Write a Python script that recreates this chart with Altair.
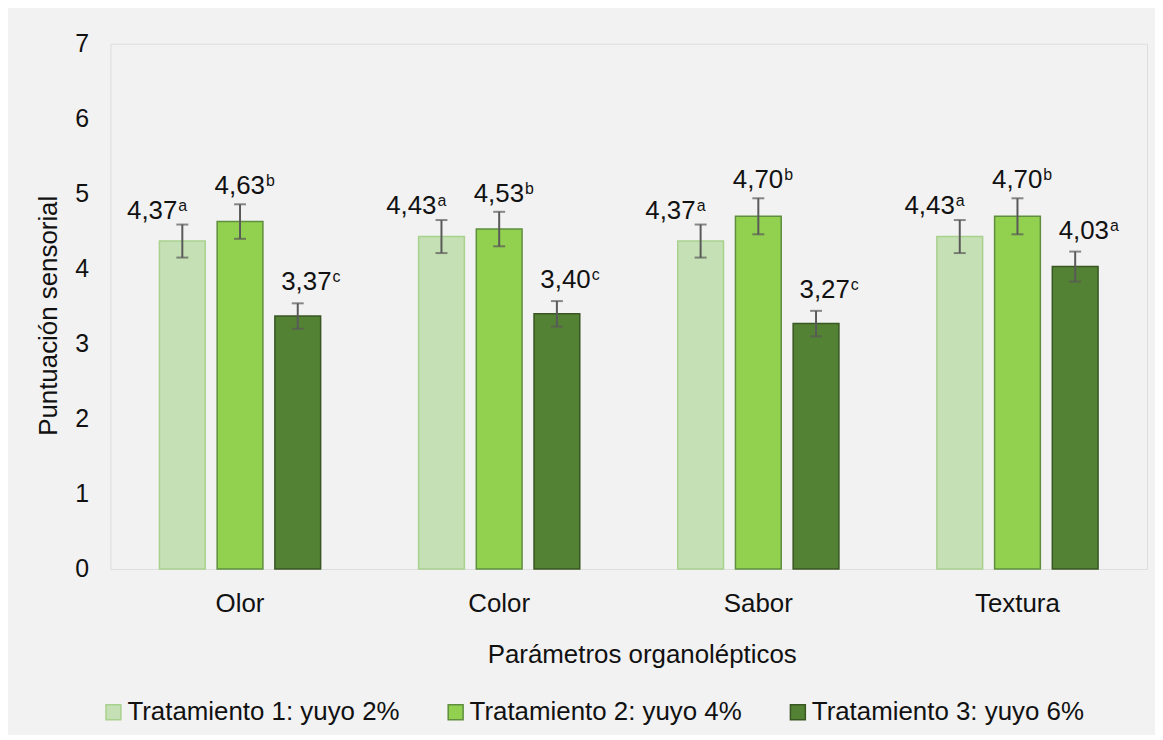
import altair as alt
import pandas as pd

params = ["Olor", "Color", "Sabor", "Textura"]
treatments = ["Tratamiento 1: yuyo 2%", "Tratamiento 2: yuyo 4%", "Tratamiento 3: yuyo 6%"]
t1_vals = [4.37, 4.43, 4.37, 4.43]
t2_vals = [4.63, 4.53, 4.70, 4.70]
t3_vals = [3.37, 3.40, 3.27, 4.03]
t1_err = [0.22, 0.22, 0.22, 0.22]
t2_err = [0.23, 0.23, 0.24, 0.24]
t3_err = [0.17, 0.17, 0.17, 0.20]
t1_sig = ["a", "a", "a", "a"]
t2_sig = ["b", "b", "b", "b"]
t3_sig = ["c", "c", "c", "a"]
y_ticks = [0, 1, 2, 3, 4, 5, 6, 7]

fills = ["#c5e0b4", "#92d050", "#548235"]
strokes = ["#a9d18e", "#5e8e3e", "#385723"]
FONT = "Liberation Sans"

rows = []
for tr, vals, errs, sigs in zip(treatments, [t1_vals, t2_vals, t3_vals],
                                [t1_err, t2_err, t3_err], [t1_sig, t2_sig, t3_sig]):
    for p, v, e, s in zip(params, vals, errs, sigs):
        rows.append({"param": p, "trat": tr, "v": v, "lo": v - e, "hi": v + e,
                     "num": f"{v:.2f}".replace(".", ","), "sig": s})
df = pd.DataFrame(rows)

x = alt.X("param:N", sort=params, scale=alt.Scale(paddingInner=0.378, paddingOuter=0.189),
          axis=alt.Axis(title="Parámetros organolépticos", labelAngle=0, ticks=False, domain=False,
                        labelFontSize=26, labelPadding=22, labelColor="#111",
                        titleFontSize=26, titleFontWeight="normal", titleColor="#111",
                        titleY=94, titleBaseline="alphabetic", titleX=534))
xo = alt.XOffset("trat:N", sort=treatments, scale=alt.Scale(paddingInner=0.207, paddingOuter=0))
yscale = alt.Scale(domain=[0, 7], nice=False)

legend = alt.Legend(title=None, orient="none", legendX=-10, legendY=659, direction="horizontal",
                    columns=3, symbolType="square", symbolSize=225, symbolStrokeWidth=1.5,
                    labelFontSize=26, labelFont=FONT, labelColor="#111", labelLimit=500,
                    labelOffset=1, columnPadding=43, padding=0)

base = alt.Chart(df)

bars = base.mark_bar(strokeWidth=1.5).encode(
    x=x, xOffset=xo,
    y=alt.Y("v:Q", scale=yscale,
            axis=alt.Axis(title="Puntuación sensorial", values=y_ticks, format="d", grid=False,
                          ticks=False, domain=False, labelFontSize=25, labelPadding=22,
                          labelColor="#111", titleFontSize=26, titleFontWeight="normal",
                          titleColor="#111", titleAngle=-90, titleX=-62, titleY=273,
                          titleAlign="center", titleBaseline="middle")),
    fill=alt.Fill("trat:N", sort=treatments, scale=alt.Scale(domain=treatments, range=fills), legend=legend),
    stroke=alt.Stroke("trat:N", sort=treatments, scale=alt.Scale(domain=treatments, range=strokes), legend=legend),
)

rules = base.mark_rule(color="#595959", strokeWidth=2).encode(
    x=x, xOffset=xo, y=alt.Y("lo:Q", scale=yscale), y2="hi:Q")
cap_lo = base.mark_tick(color="#595959", thickness=2, size=12).encode(
    x=x, xOffset=xo, y=alt.Y("lo:Q", scale=yscale))
cap_hi = base.mark_tick(color="#595959", thickness=2, size=12).encode(
    x=x, xOffset=xo, y=alt.Y("hi:Q", scale=yscale))

layers = [bars, rules, cap_lo, cap_hi]
label_dx = [-26, 4, 13]
label_dy = [-6, -10, -13]
for tr, ldx, ldy in zip(treatments, label_dx, label_dy):
    sub = base.transform_filter(alt.datum.trat == tr)
    layers.append(sub.mark_text(font=FONT, fontSize=26, color="#111", align="right",
                                baseline="alphabetic", dx=ldx + 21, dy=ldy).encode(
        x=x, xOffset=xo, y=alt.Y("hi:Q", scale=yscale), text="num:N"))
    layers.append(sub.mark_text(font=FONT, fontSize=16, color="#111", align="left",
                                baseline="alphabetic", dx=ldx + 22, dy=ldy - 8).encode(
        x=x, xOffset=xo, y=alt.Y("hi:Q", scale=yscale), text="sig:N"))

chart = alt.layer(*layers).properties(
    width=1042, height=528,
    autosize=alt.AutoSizeParams(type="none"),
    padding={"left": 103, "top": 34, "right": 8, "bottom": 165},
    background="#f2f2f2",
).configure_view(stroke="#d9d9d9", strokeWidth=2).configure(font=FONT)

chart.save("out.html", embed_options={"renderer": "svg", "actions": False})
